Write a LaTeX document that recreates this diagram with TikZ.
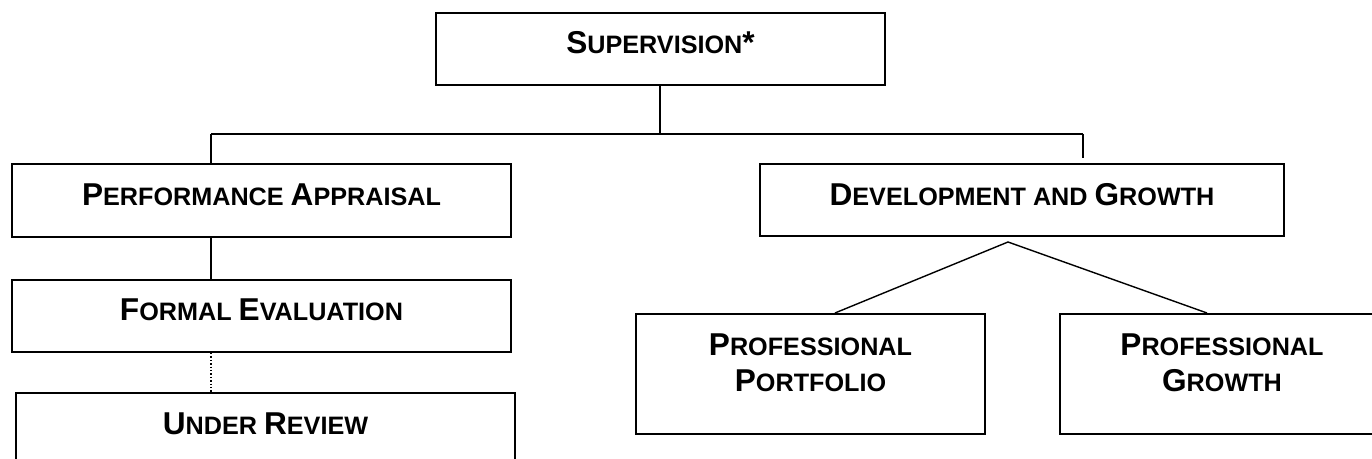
\documentclass[tikz,border=0pt]{standalone}
\usepackage{fontspec}
\setmainfont{Liberation Sans}
\usetikzlibrary{positioning}
\newcommand{\bigin}[1]{{\fontsize{15.8pt}{18.3pt}\selectfont #1}}

\begin{document}
\begin{tikzpicture}[x=0.5pt,y=-0.5pt,
    box/.style={draw, line width=1pt, inner sep=0, anchor=north west},
    lbl/.style={font=\fontsize{12.6pt}{18.3pt}\selectfont\bfseries, align=center, inner sep=0, anchor=north},
    link/.style={line width=0.7pt}]
  \useasboundingbox (0,0) rectangle (1372,459);
  \clip (0,0) rectangle (1372,459);

  % boxes
  \node[box, minimum width=224.5pt, minimum height=36pt] (sup) at (435,12) {};
  \node[box, minimum width=249.5pt, minimum height=36.5pt] (pa) at (11,163) {};
  \node[box, minimum width=249.5pt, minimum height=36pt] (fe) at (11,279) {};
  \node[box, minimum width=249.5pt, minimum height=50pt] (ur) at (15,392) {};
  \node[box, minimum width=262pt, minimum height=36pt] (dg) at (759,163) {};
  \node[box, minimum width=174.5pt, minimum height=60pt] (pp) at (635,313) {};
  \node[box, minimum width=162pt, minimum height=60pt] (pg) at (1059,313) {};

  % labels
  \node[lbl, below=9.5pt of sup.north] (supT) {\bigin{S}UPERVISION\bigin{*}};
  \node[lbl, below=10pt of pa.north] (paT) {\bigin{P}ERFORMANCE \bigin{A}PPRAISAL};
  \node[lbl, below=9.5pt of fe.north] (feT) {\bigin{F}ORMAL \bigin{E}VALUATION};
  \node[lbl, below=10pt of ur.north] (urT) {\bigin{U}NDER \bigin{R}EVIEW};
  \node[lbl, below=10pt of dg.north] (dgT) {\bigin{D}EVELOPMENT AND \bigin{G}ROWTH};
  \node[lbl, below=10pt of pp.north] (ppT) {\bigin{P}ROFESSIONAL\\\bigin{P}ORTFOLIO};
  \node[lbl, below=10pt of pg.north] (pgT) {\bigin{P}ROFESSIONAL\\\bigin{G}ROWTH};

  % connectors
  \coordinate (hub) at (660,134);
  \coordinate (hubL) at (211,134);
  \coordinate (hubR) at (1083,134);
  \coordinate (dgIn) at (1083,158);
  \coordinate (apex) at (1008,242);
  \coordinate (ppIn) at (835,313);
  \coordinate (pgIn) at (1207,313);

  \draw[link] (sup.south -| hub) -- (hub);
  \draw[link] (hubL) -- (hubR);
  \draw[link] (hubL) -- (hubL |- pa.north);
  \draw[link] (hubR) -- (dgIn);
  \draw[link] (pa.south -| hubL) -- (fe.north -| hubL);
  \draw[link, densely dotted] (fe.south -| hubL) -- (ur.north -| hubL);
  \draw[link] (ppIn) -- (apex) -- (pgIn);

\end{tikzpicture}
\end{document}
